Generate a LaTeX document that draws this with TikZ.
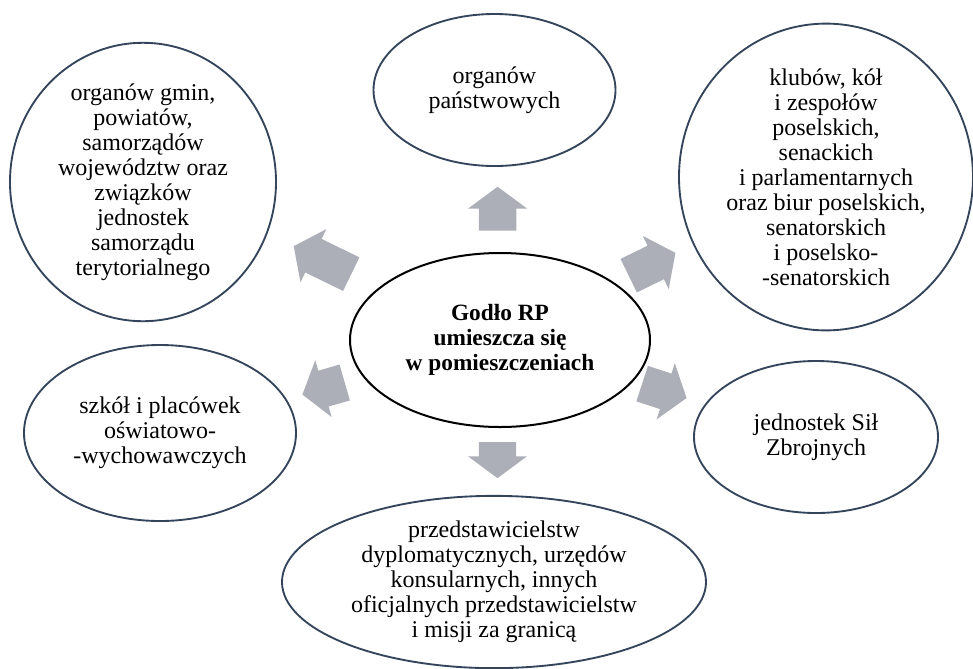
\documentclass[tikz,border=0pt]{standalone}
\usepackage{fontspec}
\setmainfont{Liberation Serif}
\usepackage{tikz}
\usetikzlibrary{shapes.geometric,shapes.arrows,calc}
\definecolor{rimblue}{HTML}{34455B}
\definecolor{arrowgrey}{HTML}{ACAFB7}

\begin{document}
\begin{tikzpicture}[x=0.75pt,y=-0.75pt,
			every node/.style={font=\fontsize{18}{18.75}\selectfont, align=center, inner sep=0pt},
			place/.style={ellipse, draw=rimblue, line width=1.4pt},
			hubnode/.style={ellipse, draw=black, line width=1.5pt,
				font=\fontsize{17.5}{18.75}\selectfont\bfseries},
			pointer/.style={single arrow, fill=arrowgrey, draw=none, inner xsep=0pt, anchor=tail,
				inner ysep=13.8pt, single arrow head extend=8.2pt, single arrow tip angle=107}]
			\useasboundingbox (0,0) rectangle (973,668);
			
			\node[hubnode, minimum width=225pt, minimum height=130.5pt] (hub) at (500,340)
				{Godło RP\\umieszcza się\\w pomieszczeniach};
			
			\node[place, minimum width=181.5pt, minimum height=114pt] (organy) at (494.5,90)
				{organów\\państwowych};
			\node[place, minimum width=199.5pt, minimum height=186pt] (gminy) at (143,182)
				{organów gmin,\\powiatów,\\samorządów\\województw oraz\\związków\\jednostek\\samorządu\\terytorialnego};
			\node[place, minimum width=220.5pt, minimum height=220pt] (kluby) at (826,177)
				{klubów, kół\\i zespołów\\poselskich,\\senackich\\i parlamentarnych\\oraz biur poselskich,\\senatorskich\\i poselsko-\\-senatorskich};
			\node[place, minimum width=204pt, minimum height=132pt] (szkoly) at (160,433)
				{szkół i placówek\\oświatowo-\\-wychowawczych};
			\node[place, minimum width=183pt, minimum height=114pt] (wojsko) at (816,437)
				{jednostek Sił\\Zbrojnych};
			\node[place, minimum width=318pt, minimum height=127.5pt] (placowki) at (494,582)
				{przedstawicielstw\\dyplomatycznych, urzędów\\konsularnych, innych\\oficjalnych przedstawicielstw\\i misji za granicą};
			
			%arrows from the hub
			\node[pointer, minimum height=33pt, rotate=90] (doOrganow) at ($(hub)!0.436!(organy)$) {};
			\node[pointer, minimum height=27pt, rotate=-90] (doPlacowek) at ($(hub)!0.421!(placowki)$) {};
			\node[pointer, minimum height=48pt, rotate=154] (doGmin) at ($(hub)!0.416!(gminy)$) {};
			\node[pointer, minimum height=39pt, rotate=26] (doKlubow) at ($(hub)!0.394!(kluby)$) {};
			\node[pointer, minimum height=33pt, rotate=196] (doSzkol) at ($(hub)!0.456!(szkoly)$) {};
			\node[pointer, minimum height=35pt, rotate=-18] (doWojska) at ($(hub)!0.449!(wojsko)$) {};
		\end{tikzpicture}
\end{document}
